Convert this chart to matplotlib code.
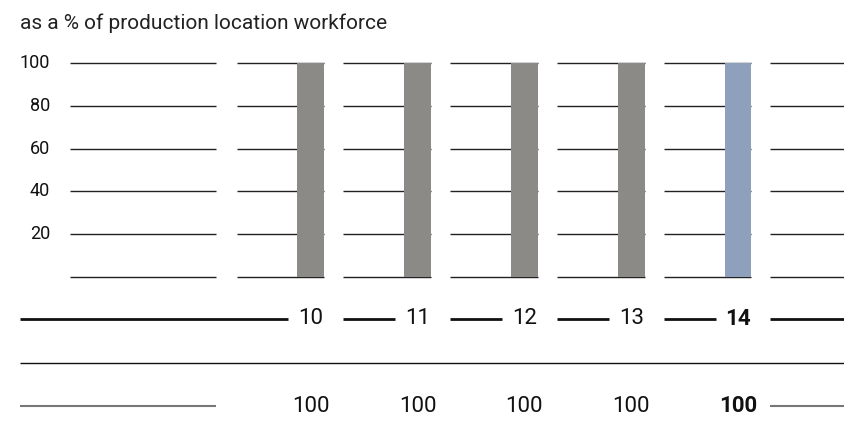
import matplotlib
matplotlib.use("Agg")
import matplotlib.pyplot as plt

plt.rcParams['font.family'] = ['Liberation Sans Narrow', 'Roboto', 'DejaVu Sans']

# data
years = ["10", "11", "12", "13", "14"]
values = [100, 100, 100, 100, 100]
yticks = [20, 40, 60, 80, 100]
title = "as a % of production location workforce"

GRAY = "#8b8a86"
BLUE = "#8fa0bd"

W, H = 844, 442
fig = plt.figure(figsize=(W / 100, H / 100), dpi=100)

# layout in pixels, columns in units of one column period
period = 106.8
origin = 236.5
left_px, right_px = 20, 844
x_lo = (left_px - origin) / period
x_hi = (right_px - origin) / period
label_col = ((70 - origin) / period, (216 - origin) / period)
bar_off, bar_w = 0.57, 0.252
seg_end = bar_off + bar_w


def fig_rect(top_px, bottom_px):
    return [left_px / W, 1 - bottom_px / H, (right_px - left_px) / W, (bottom_px - top_px) / H]


# bar area
ax = fig.add_axes(fig_rect(63.3, 276.7))
ax.set_xlim(x_lo, x_hi)
ax.set_ylim(0, 100)
ax.axis("off")

n = len(years)
for yv in [0] + yticks:
    ax.hlines(yv, *label_col, color="#222222", lw=1, clip_on=False)
    for k in range(n):
        ax.hlines(yv, k, k + seg_end, color="#222222", lw=1, clip_on=False)
    ax.hlines(yv, n, x_hi, color="#222222", lw=1, clip_on=False)

colors = [GRAY] * (n - 1) + [BLUE]
ax.bar([k + bar_off for k in range(n)], values, width=bar_w, align="edge",
       color=colors, edgecolor="none", zorder=3)

for yv in yticks:
    ax.text((50 - origin) / period, yv, str(yv), ha="right", va="center",
            fontsize=13, color="#111111")

fig.text(left_px / W, 1 - 23 / H, title, ha="left", va="center",
         fontsize=15, color="#222222")

# table rows below
tb = fig.add_axes(fig_rect(290, 432))
tb.set_xlim(x_lo, x_hi)
tb.set_ylim((432 - 319) / 43.5, (290 - 319) / 43.5)
tb.axis("off")

centers = [k + bar_off + bar_w / 2 for k in range(n)]

# year row
for k, (c, yr) in enumerate(zip(centers, years)):
    start = x_lo if k == 0 else k
    tb.hlines(0, start, c - 0.21, color="#111111", lw=2)
    bold = k == n - 1
    tb.text(c, 0, yr, ha="center", va="center", fontsize=16,
            fontweight="bold" if bold else "normal", color="#111111")
tb.hlines(0, n, x_hi, color="#111111", lw=2)

# separator
tb.hlines(1, x_lo, x_hi, color="#111111", lw=1)

# value row
tb.hlines(2, x_lo, label_col[1], color="#777777", lw=1.5)
for k, (c, v) in enumerate(zip(centers, values)):
    bold = k == n - 1
    tb.text(c, 2, str(v), ha="center", va="center", fontsize=16,
            fontweight="bold" if bold else "normal", color="#111111")
tb.hlines(2, n, x_hi, color="#777777", lw=1.5)

fig.savefig("out.png", dpi=100)
